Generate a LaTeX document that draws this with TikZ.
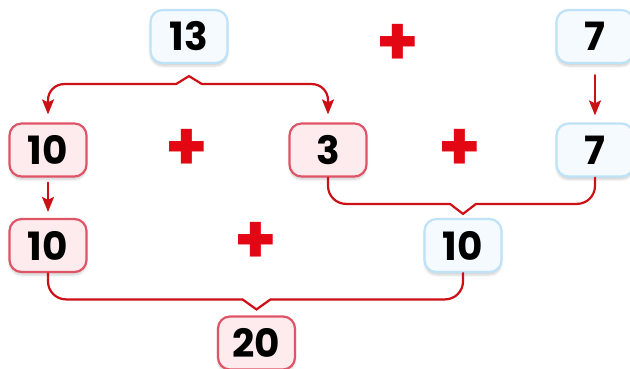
\documentclass[tikz,border=0pt]{standalone}
\usepackage{fontspec}
\setmainfont{Poppins}
\usetikzlibrary{arrows.meta,positioning,calc,shadows.blur}

\definecolor{linkred}{HTML}{CC1016}
\definecolor{plusred}{HTML}{E30613}
\definecolor{pinkfill}{HTML}{FDEBED}
\definecolor{pinkline}{HTML}{E05468}
\definecolor{bluefill}{HTML}{F5FAFE}
\definecolor{blueline}{HTML}{BEE2F7}

\begin{document}
\begin{tikzpicture}[x=1pt, y=-1pt,
    num/.style={rounded corners=12pt, minimum width=77pt, minimum height=53pt, line width=2.2pt, inner sep=0pt,
      font=\fontsize{39}{39}\selectfont\bfseries,
      blur shadow={shadow xshift=0pt, shadow yshift=-3pt, shadow blur steps=6, shadow opacity=18}},
    redbox/.style={num, draw=pinkline, fill=pinkfill},
    bluebox/.style={num, draw=blueline, fill=bluefill},
    plus/.style={text=plusred, font=\fontsize{68}{68}\selectfont\bfseries, inner sep=0pt},
    link/.style={draw=linkred, line width=2.2pt, line cap=round},
    arrow/.style={link, -{Stealth[length=15pt, width=12pt, inset=3pt]}}
  ]
    \useasboundingbox (0,0) rectangle (630,369);

    \node[bluebox] (n13) at (189,36.5) {13};
    \node[plus]    (p1)  at (398,45)   {+};
    \node[bluebox] (t7)  at (595,36.5) {7};

    \node[redbox]  (a10) at (48,150)   {10};
    \node[plus]    (p2)  at (187,150)  {+};
    \node[redbox]  (b3)  at (328,150)  {3};
    \node[plus]    (p3)  at (460,150)  {+};
    \node[bluebox] (b7)  at (595,150)  {7};

    \node[redbox]  (c10) at (48,245.5)  {10};
    \node[plus]    (p4)  at (256,243)   {+};
    \node[bluebox] (s10) at (463,245.5) {10};

    \node[redbox]  (d20) at (256.5,343) {20};

    % split 13 into 10 and 3
    \coordinate (top) at ([yshift=-12pt]n13.south);
    \draw[link] ($(top)+(-13,8)$) -- (top) -- ($(top)+(13,8)$);
    \draw[arrow, rounded corners=16pt] ($(top)+(-13,8)$) -| ([yshift=8pt]a10.north);
    \draw[arrow, rounded corners=16pt] ($(top)+(13,8)$) -| ([yshift=8pt]b3.north);

    \draw[arrow] ([yshift=-11pt]t7.south) -- ([yshift=7pt]b7.north);
    \draw[arrow] ([yshift=-5pt]a10.south) -- ([yshift=6pt]c10.north);

    % 3 + 7 gives 10
    \coordinate (mid) at ([yshift=4pt]s10.north);
    \draw[link] ($(mid)+(-13,-10)$) -- (mid) -- ($(mid)+(13,-10)$);
    \draw[link, rounded corners=18pt] (b3.south) |- ($(mid)+(-13,-10)$);
    \draw[link, rounded corners=18pt] (b7.south) |- ($(mid)+(13,-10)$);

    % 10 + 10 gives 20
    \coordinate (low) at ([yshift=6pt]d20.north);
    \draw[link] ($(low)+(-14,-10)$) -- (low) -- ($(low)+(14,-10)$);
    \draw[link, rounded corners=18pt] (c10.south) |- ($(low)+(-14,-10)$);
    \draw[link, rounded corners=18pt] (s10.south) |- ($(low)+(14,-10)$);
\end{tikzpicture}
\end{document}
